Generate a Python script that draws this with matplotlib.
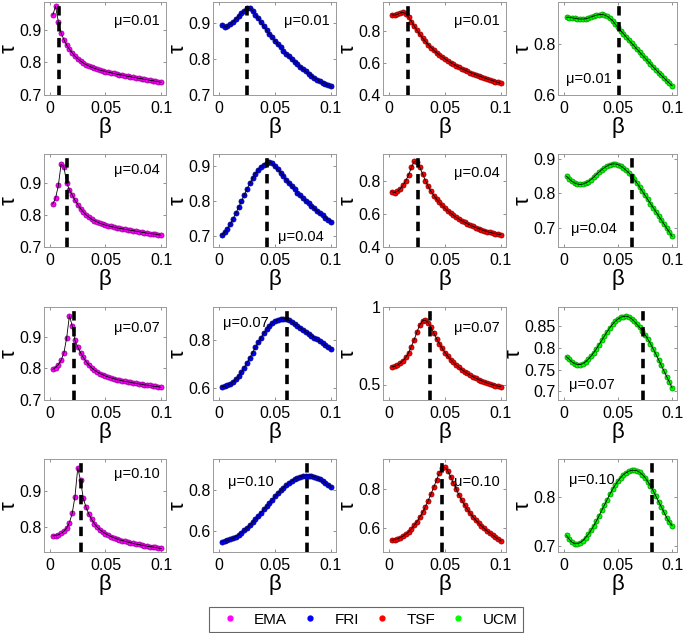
import matplotlib
matplotlib.use("Agg")
import matplotlib.pyplot as plt
from matplotlib.ticker import FuncFormatter
from matplotlib.lines import Line2D

plt.rcParams['font.family'] = ['Liberation Sans', 'DejaVu Sans']

# beta grid used in every panel
beta = [0.0025, 0.005, 0.0075, 0.01, 0.0125, 0.015, 0.0175, 0.02, 0.0225, 0.025,
        0.0275, 0.03, 0.0325, 0.035, 0.0375, 0.04, 0.0425, 0.045, 0.0475, 0.05,
        0.0525, 0.055, 0.0575, 0.06, 0.0625, 0.065, 0.0675, 0.07, 0.0725, 0.075,
        0.0775, 0.08, 0.0825, 0.085, 0.0875, 0.09, 0.0925, 0.095, 0.0975, 0.1]

mus = ["0.01", "0.04", "0.07", "0.10"]
networks = ["EMA", "FRI", "TSF", "UCM"]

# tau values, one list per (network, mu)
ema_001 = [0.945, 0.972, 0.925, 0.890, 0.870, 0.853, 0.840, 0.829, 0.819, 0.811,
           0.804, 0.798, 0.793, 0.789, 0.785, 0.782, 0.779, 0.776, 0.774, 0.772,
           0.770, 0.768, 0.766, 0.764, 0.762, 0.761, 0.759, 0.757, 0.756, 0.754,
           0.753, 0.751, 0.750, 0.748, 0.747, 0.745, 0.744, 0.742, 0.741, 0.739]
fri_001 = [0.895, 0.890, 0.892, 0.898, 0.905, 0.913, 0.921, 0.929, 0.936, 0.942,
           0.943, 0.935, 0.925, 0.914, 0.903, 0.892, 0.881, 0.871, 0.861, 0.851,
           0.842, 0.833, 0.824, 0.816, 0.808, 0.800, 0.793, 0.786, 0.779, 0.772,
           0.766, 0.760, 0.754, 0.748, 0.743, 0.738, 0.734, 0.730, 0.727, 0.724]
tsf_001 = [0.900, 0.897, 0.903, 0.912, 0.915, 0.906, 0.885, 0.858, 0.830, 0.803,
           0.778, 0.755, 0.734, 0.714, 0.696, 0.679, 0.664, 0.650, 0.637, 0.625,
           0.613, 0.602, 0.592, 0.582, 0.573, 0.564, 0.556, 0.548, 0.540, 0.533,
           0.526, 0.519, 0.513, 0.507, 0.501, 0.495, 0.489, 0.483, 0.478, 0.472]
ucm_001 = [0.905, 0.904, 0.903, 0.901, 0.899, 0.898, 0.898, 0.899, 0.902, 0.906,
           0.910, 0.913, 0.915, 0.916, 0.914, 0.909, 0.901, 0.892, 0.878, 0.865,
           0.853, 0.840, 0.828, 0.816, 0.804, 0.792, 0.780, 0.768, 0.756, 0.745,
           0.733, 0.722, 0.710, 0.699, 0.688, 0.677, 0.667, 0.656, 0.646, 0.636]

ema_004 = [0.834, 0.852, 0.892, 0.958, 0.951, 0.900, 0.878, 0.862, 0.846, 0.832,
           0.820, 0.809, 0.800, 0.793, 0.787, 0.782, 0.778, 0.774, 0.771, 0.768,
           0.766, 0.764, 0.762, 0.760, 0.758, 0.757, 0.755, 0.754, 0.752, 0.751,
           0.749, 0.748, 0.746, 0.745, 0.743, 0.742, 0.741, 0.740, 0.738, 0.737]
fri_004 = [0.705, 0.712, 0.722, 0.735, 0.750, 0.766, 0.783, 0.800, 0.818, 0.835,
           0.851, 0.866, 0.879, 0.890, 0.899, 0.905, 0.910, 0.912, 0.908, 0.900,
           0.891, 0.882, 0.872, 0.862, 0.852, 0.843, 0.834, 0.825, 0.817, 0.809,
           0.801, 0.794, 0.787, 0.780, 0.773, 0.766, 0.760, 0.754, 0.748, 0.742]
tsf_004 = [0.733, 0.728, 0.735, 0.750, 0.772, 0.800, 0.835, 0.880, 0.915, 0.912,
           0.880, 0.840, 0.800, 0.765, 0.735, 0.710, 0.688, 0.668, 0.650, 0.633,
           0.618, 0.604, 0.591, 0.579, 0.568, 0.558, 0.549, 0.540, 0.532, 0.524,
           0.517, 0.510, 0.504, 0.498, 0.493, 0.488, 0.484, 0.480, 0.477, 0.474]
ucm_004 = [0.850, 0.842, 0.835, 0.830, 0.827, 0.826, 0.827, 0.830, 0.834, 0.840,
           0.847, 0.855, 0.862, 0.869, 0.875, 0.880, 0.884, 0.886, 0.886, 0.884,
           0.880, 0.874, 0.867, 0.860, 0.851, 0.841, 0.830, 0.818, 0.806, 0.794,
           0.782, 0.770, 0.758, 0.746, 0.734, 0.722, 0.710, 0.698, 0.686, 0.674]

ema_007 = [0.797, 0.803, 0.812, 0.826, 0.849, 0.897, 0.968, 0.935, 0.889, 0.868,
           0.850, 0.835, 0.822, 0.811, 0.802, 0.795, 0.789, 0.784, 0.780, 0.776,
           0.773, 0.770, 0.768, 0.765, 0.763, 0.761, 0.759, 0.758, 0.756, 0.754,
           0.753, 0.751, 0.750, 0.748, 0.747, 0.746, 0.744, 0.743, 0.742, 0.740]
fri_007 = [0.605, 0.607, 0.611, 0.617, 0.625, 0.637, 0.651, 0.668, 0.686, 0.706,
           0.727, 0.749, 0.771, 0.792, 0.812, 0.830, 0.846, 0.860, 0.871, 0.880,
           0.886, 0.889, 0.891, 0.890, 0.884, 0.876, 0.868, 0.860, 0.852, 0.844,
           0.836, 0.828, 0.820, 0.812, 0.804, 0.796, 0.788, 0.780, 0.772, 0.765]
tsf_007 = [0.613, 0.617, 0.625, 0.637, 0.654, 0.676, 0.705, 0.745, 0.790, 0.840,
           0.885, 0.912, 0.915, 0.898, 0.868, 0.832, 0.795, 0.762, 0.733, 0.706,
           0.682, 0.661, 0.642, 0.625, 0.610, 0.596, 0.583, 0.571, 0.560, 0.550,
           0.541, 0.532, 0.524, 0.517, 0.510, 0.504, 0.498, 0.493, 0.489, 0.485]
ucm_007 = [0.780, 0.774, 0.768, 0.764, 0.762, 0.762, 0.764, 0.768, 0.774, 0.781,
           0.789, 0.798, 0.808, 0.818, 0.828, 0.838, 0.847, 0.855, 0.862, 0.867,
           0.871, 0.873, 0.874, 0.872, 0.868, 0.862, 0.855, 0.848, 0.840, 0.831,
           0.821, 0.810, 0.798, 0.786, 0.773, 0.760, 0.747, 0.734, 0.721, 0.708]

ema_010 = [0.775, 0.776, 0.778, 0.782, 0.788, 0.797, 0.812, 0.838, 0.885, 0.965,
           0.930, 0.880, 0.855, 0.836, 0.821, 0.809, 0.800, 0.792, 0.786, 0.781,
           0.777, 0.773, 0.770, 0.767, 0.764, 0.762, 0.760, 0.758, 0.756, 0.754,
           0.752, 0.751, 0.749, 0.748, 0.746, 0.745, 0.744, 0.743, 0.741, 0.740]
fri_010 = [0.550, 0.552, 0.556, 0.561, 0.567, 0.575, 0.584, 0.594, 0.605, 0.617,
           0.630, 0.644, 0.659, 0.674, 0.690, 0.706, 0.722, 0.738, 0.754, 0.769,
           0.784, 0.798, 0.811, 0.823, 0.834, 0.844, 0.852, 0.859, 0.864, 0.868,
           0.870, 0.870, 0.868, 0.864, 0.858, 0.851, 0.843, 0.834, 0.825, 0.815]
tsf_010 = [0.540, 0.542, 0.546, 0.552, 0.560, 0.570, 0.582, 0.597, 0.614, 0.634,
           0.656, 0.681, 0.709, 0.740, 0.773, 0.808, 0.845, 0.880, 0.905, 0.908,
           0.890, 0.860, 0.828, 0.797, 0.768, 0.741, 0.717, 0.695, 0.675, 0.657,
           0.641, 0.626, 0.612, 0.599, 0.587, 0.576, 0.565, 0.555, 0.545, 0.536]
ucm_010 = [0.722, 0.714, 0.708, 0.705, 0.705, 0.707, 0.711, 0.717, 0.724, 0.732,
           0.741, 0.751, 0.762, 0.773, 0.784, 0.795, 0.806, 0.816, 0.825, 0.833,
           0.840, 0.846, 0.850, 0.853, 0.855, 0.855, 0.854, 0.851, 0.846, 0.840,
           0.832, 0.823, 0.813, 0.802, 0.791, 0.780, 0.769, 0.758, 0.749, 0.742]

# optimal beta (dashed line) per row (mu) and column (network)
beta_star_001 = [0.008, 0.025, 0.0165, 0.051]
beta_star_004 = [0.015, 0.0425, 0.026, 0.063]
beta_star_007 = [0.0215, 0.061, 0.037, 0.073]
beta_star_010 = [0.028, 0.079, 0.047, 0.081]

series = [[ema_001, fri_001, tsf_001, ucm_001],
          [ema_004, fri_004, tsf_004, ucm_004],
          [ema_007, fri_007, tsf_007, ucm_007],
          [ema_010, fri_010, tsf_010, ucm_010]]
beta_star = [beta_star_001, beta_star_004, beta_star_007, beta_star_010]

colors = ['#ff00ff', '#0000ff', '#ff0000', '#00ff00']
marker_edge = ['#a000a0', '#00008a', '#9a0000', '#00a000']

# y ranges / ticks for each panel
ylims = [[(0.7, 0.985), (0.7, 0.96), (0.4, 0.98), (0.6, 0.965)],
         [(0.7, 0.99), (0.67, 0.935), (0.4, 0.96), (0.643, 0.915)],
         [(0.7, 0.995), (0.55, 0.94), (0.4, 1.0), (0.68, 0.895)],
         [(0.73, 0.99), (0.5, 0.95), (0.48, 0.95), (0.688, 0.878)]]
yticks = [[[0.7, 0.8, 0.9], [0.7, 0.8, 0.9], [0.4, 0.6, 0.8], [0.6, 0.8]],
          [[0.7, 0.8, 0.9], [0.7, 0.8, 0.9], [0.4, 0.6, 0.8], [0.7, 0.8, 0.9]],
          [[0.7, 0.8, 0.9], [0.6, 0.8], [0.5, 1.0], [0.7, 0.75, 0.8, 0.85]],
          [[0.8, 0.9], [0.6, 0.8], [0.6, 0.8], [0.7, 0.8]]]
# where the mu label sits (axes fraction, horizontal alignment)
label_pos = [[(0.95, 0.80, 'right'), (0.95, 0.80, 'right'), (0.95, 0.80, 'right'), (0.07, 0.17, 'left')],
             [(0.95, 0.83, 'right'), (0.90, 0.11, 'right'), (0.95, 0.80, 'right'), (0.11, 0.19, 'left')],
             [(0.95, 0.77, 'right'), (0.08, 0.83, 'left'), (0.95, 0.77, 'right'), (0.09, 0.16, 'left')],
             [(0.95, 0.84, 'right'), (0.12, 0.75, 'left'), (0.95, 0.75, 'right'), (0.09, 0.77, 'left')]]

W, H = 685, 633
fig = plt.figure(figsize=(W / 100, H / 100), dpi=100)

col_left = [44, 213, 383, 558]
col_width = [122, 123, 123, 119]
row_top = [2, 154, 307, 459]
row_h = 93

fmt = FuncFormatter(lambda v, p: ('%g' % round(v, 3)))

for r in range(4):
    for c in range(4):
        ax = fig.add_axes([col_left[c] / W, 1 - (row_top[r] + row_h) / H,
                           col_width[c] / W, row_h / H])
        y = series[r][c]
        ax.plot(beta, y, linestyle='none', marker='o', markersize=3.6,
                markerfacecolor=colors[c], markeredgecolor=marker_edge[c],
                markeredgewidth=0.6, zorder=2)
        ax.plot(beta, y, color='black', linewidth=0.6, zorder=3)
        ax.axvline(beta_star[r][c], color='black', linewidth=2.6,
                   linestyle=(0, (2.6, 1.8)), zorder=4)
        ax.set_xlim(-0.0054, 0.1045)
        ax.set_ylim(*ylims[r][c])
        ax.set_xticks([0, 0.05, 0.1])
        ax.set_yticks(yticks[r][c])
        ax.xaxis.set_major_formatter(fmt)
        ax.yaxis.set_major_formatter(fmt)
        ax.tick_params(direction='in', length=2.5, width=0.6, color='#808080',
                       labelsize=11.5, top=True, right=True)
        ax.tick_params(axis='x', pad=4)
        ax.tick_params(axis='y', pad=1.5)
        for s in ax.spines.values():
            s.set_color('#9a9a9a')
            s.set_linewidth(0.7)
        ax.set_xlabel('β', fontsize=16, labelpad=1)
        ax.set_ylabel('τ', fontsize=16, labelpad=0)
        lx, ly, ha = label_pos[r][c]
        ax.text(lx, ly, 'μ=' + mus[r], transform=ax.transAxes, fontsize=10.5,
                ha=ha, va='center', zorder=5)

handles = [Line2D([], [], linestyle='none', marker='o', markersize=3.5,
                  markerfacecolor=col, markeredgecolor=col) for col in colors]
leg = fig.legend(handles, networks, loc='lower left', ncol=4,
                 bbox_to_anchor=(209 / W, 1 / H), frameon=True, fancybox=False,
                 fontsize=11, handlelength=2.0, columnspacing=0.5,
                 borderpad=0.35, handletextpad=0.6, borderaxespad=0)
leg.get_frame().set_edgecolor('#404040')
leg.get_frame().set_linewidth(0.8)

fig.savefig('out.png', dpi=100)
